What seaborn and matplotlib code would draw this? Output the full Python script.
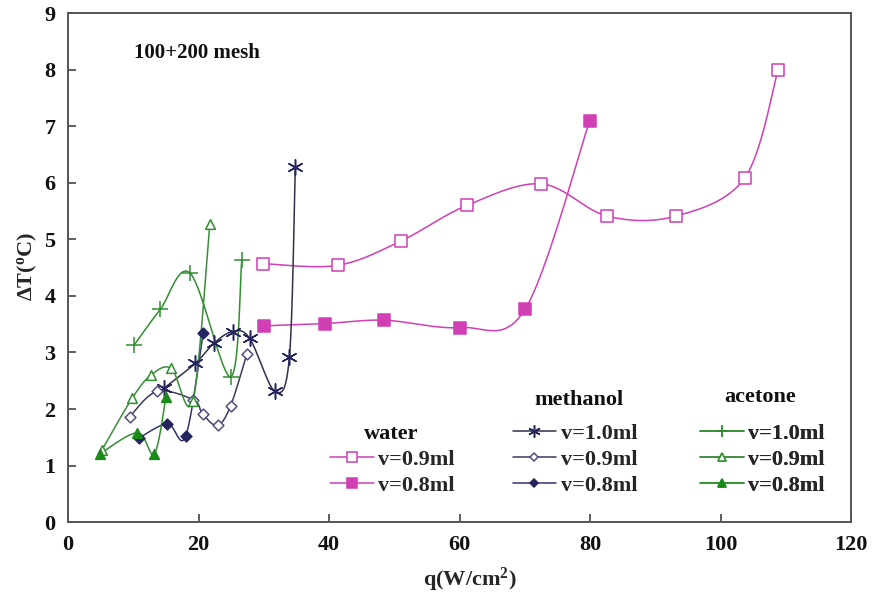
import numpy as np
import pandas as pd
import matplotlib
matplotlib.use("Agg")
import matplotlib.pyplot as plt
from matplotlib.lines import Line2D
import seaborn as sns

# Heat flux q (W/cm^2) and wall superheat dT (C) for each fluid / fill volume
water_09_q = [29.9, 41.3, 51.0, 61.1, 72.5, 82.6, 93.1, 103.7, 108.8]
water_09_dt = [4.57, 4.54, 4.97, 5.60, 5.98, 5.41, 5.41, 6.09, 8.00]
water_08_q = [30.0, 39.4, 48.4, 60.1, 70.0, 79.9]
water_08_dt = [3.47, 3.51, 3.57, 3.44, 3.76, 7.09]

methanol_10_q = [14.7, 19.5, 22.3, 25.2, 27.8, 31.7, 33.9, 34.8]
methanol_10_dt = [2.37, 2.81, 3.16, 3.37, 3.25, 2.31, 2.92, 6.27]
methanol_09_q = [9.4, 13.6, 19.2, 20.6, 22.9, 24.9, 27.4]
methanol_09_dt = [1.86, 2.31, 2.16, 1.91, 1.71, 2.06, 2.98]
methanol_08_q = [10.9, 15.2, 18.0, 20.7]
methanol_08_dt = [1.49, 1.74, 1.52, 3.35]

acetone_10_q = [10.1, 14.1, 18.7, 24.9, 26.6]
acetone_10_dt = [3.13, 3.76, 4.40, 2.57, 4.63]
acetone_09_q = [5.2, 9.8, 12.7, 15.8, 19.1, 21.7]
acetone_09_dt = [1.28, 2.19, 2.60, 2.72, 2.15, 5.27]
acetone_08_q = [4.9, 10.6, 13.2, 15.0]
acetone_08_dt = [1.21, 1.58, 1.21, 2.22]

x_ticks = [0, 20, 40, 60, 80, 100, 120]
y_ticks = list(range(10))

MAGENTA = "#d03fb4"
NAVY = "#24245e"
GREEN = "#2f8f2f"
GREEN_DARK = "#1a8a1a"

series = [
    # fluid, label, q, dT, line colour, marker, face, edge, size
    ("water", "v=0.9ml", water_09_q, water_09_dt, MAGENTA, "s", "white", MAGENTA, 8.5),
    ("water", "v=0.8ml", water_08_q, water_08_dt, MAGENTA, "s", MAGENTA, MAGENTA, 8.5),
    ("methanol", "v=1.0ml", methanol_10_q, methanol_10_dt, "#30304a", (6, 2, 0), NAVY, NAVY, 11),
    ("methanol", "v=0.9ml", methanol_09_q, methanol_09_dt, "#3a3a5e", "D", "white", "#50507a", 5.5),
    ("methanol", "v=0.8ml", methanol_08_q, methanol_08_dt, "#33336e", "D", NAVY, NAVY, 5.5),
    ("acetone", "v=1.0ml", acetone_10_q, acetone_10_dt, GREEN, "+", GREEN, GREEN, 11),
    ("acetone", "v=0.9ml", acetone_09_q, acetone_09_dt, "#3c8c3c", "^", "white", GREEN, 7),
    ("acetone", "v=0.8ml", acetone_08_q, acetone_08_dt, GREEN, "^", GREEN_DARK, GREEN_DARK, 7),
]


def smooth(xs, ys, n=30):
    """Catmull-Rom style Bezier smoothing through every point."""
    p = np.column_stack([xs, ys]).astype(float)
    ext = np.vstack([p[0], p, p[-1]])
    out = []
    t = np.linspace(0, 1, n)[:, None]
    for i in range(1, len(ext) - 2):
        p0, p1, p2, p3 = ext[i - 1], ext[i], ext[i + 1], ext[i + 2]
        c1 = p1 + (p2 - p0) / 6.0
        c2 = p2 - (p3 - p1) / 6.0
        seg = ((1 - t) ** 3) * p1 + 3 * ((1 - t) ** 2) * t * c1 + 3 * (1 - t) * t ** 2 * c2 + t ** 3 * p2
        out.append(seg if i == 1 else seg[1:])
    curve = np.vstack(out)
    return curve[:, 0], curve[:, 1]


sns.set_theme(style="ticks")
plt.rcParams["font.family"] = ["Liberation Serif", "DejaVu Serif"]
plt.rcParams["font.weight"] = "bold"
plt.rcParams["mathtext.fontset"] = "custom"
plt.rcParams["mathtext.rm"] = "Liberation Serif:bold"
plt.rcParams["mathtext.it"] = "Liberation Serif:bold"

fig = plt.figure(figsize=(8.74, 5.94), dpi=100)
ax = fig.add_axes([0.078, 0.121, 0.896, 0.857])

handles = {}
for fluid, label, q, dt, lc, mk, fc, ec, ms in series:
    sx, sy = smooth(q, dt)
    curve = pd.DataFrame({"q": sx, "dT": sy})
    sns.lineplot(data=curve, x="q", y="dT", sort=False, estimator=None,
                 color=lc, lw=1.1, ax=ax, zorder=2)
    pts = pd.DataFrame({"q": q, "dT": dt})
    lined = mk in ("+", (6, 2, 0))
    mew = 1.1
    sns.scatterplot(data=pts, x="q", y="dT", marker=mk, s=ms ** 2,
                    color=fc, edgecolor=ec, linewidth=mew, ax=ax, zorder=3)
    if lined:
        ax.collections[-1].set_edgecolor(ec)
        ax.collections[-1].set_facecolor(ec)
    handles.setdefault(fluid, []).append(
        Line2D([], [], color=lc, lw=1.1, marker=mk, markersize=ms * 0.8,
               markerfacecolor=fc, markeredgecolor=ec, markeredgewidth=mew, label=label))

ax.set_xlim(0, 120)
ax.set_ylim(0, 9)
ax.set_xticks(x_ticks)
ax.set_yticks(y_ticks)
ax.tick_params(direction="in", length=6, width=1.2, colors="#444444",
               labelcolor="#111111", labelsize=16)
ax.tick_params(axis="x", pad=9)
ax.tick_params(axis="y", pad=9)
for s in ax.spines.values():
    s.set_color("#555555")
    s.set_linewidth(1.4)
    s.set_visible(True)

ax.set_xlabel(r"q(W/cm$^{2}$)", fontsize=16, fontweight="bold")
ax.set_ylabel(r"$\Delta$T($^{o}$C)", fontsize=16, fontweight="bold")
ax.xaxis.set_label_coords(0.513, -0.086)
ax.yaxis.set_label_coords(-0.037, 0.503)
ax.text(19.8, 8.3, "100+200 mesh", ha="center", va="center",
        fontsize=15, fontweight="bold", color="#111111")

# Grouped legend: one block per working fluid, with its own header
legend_specs = [
    # fluid, anchor of the entry block (axes fraction), header position
    ("water", (0.3346, 0.0972), (0.4125, 0.1729)),
    ("methanol", (0.5677, 0.1228), (0.6526, 0.2397)),
    ("acetone", (0.8072, 0.1228), (0.8838, 0.2456)),
]
for fluid, anchor, head in legend_specs:
    leg = ax.legend(handles=handles[fluid], loc="center left", bbox_to_anchor=anchor,
                    frameon=False, fontsize=16, handlelength=1.95,
                    handletextpad=0.2, labelspacing=0.25, borderpad=0.0,
                    borderaxespad=0.0)
    for t in leg.get_texts():
        t.set_fontweight("bold")
    ax.add_artist(leg)
    ax.text(head[0], head[1], fluid, transform=ax.transAxes, ha="center",
            va="center", fontsize=16, fontweight="bold", color="#111111")

fig.savefig("out.png", dpi=100, facecolor="white")
